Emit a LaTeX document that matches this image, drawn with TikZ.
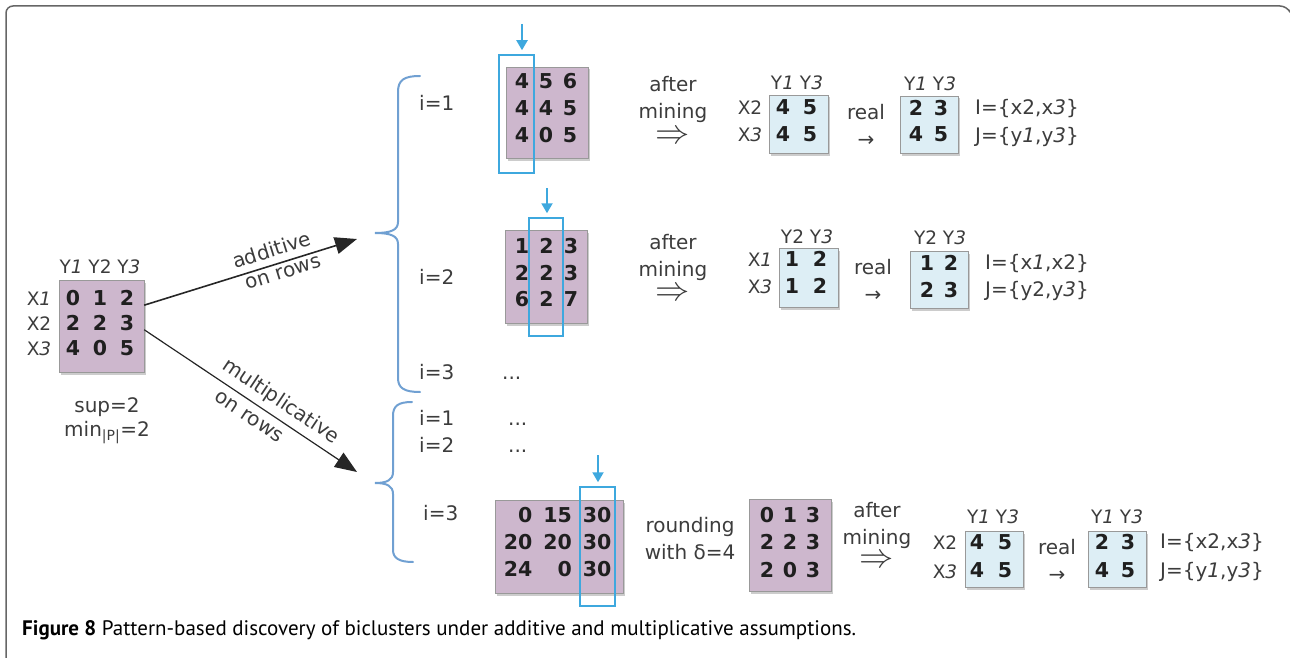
\documentclass[tikz,border=0pt]{standalone}
\usepackage{graphicx}
\usepackage{fontspec}
\setmainfont{DejaVu Sans}
\newfontfamily\capfont{PT Sans}
\usetikzlibrary{arrows.meta,shadows}
\definecolor{matpink}{RGB}{205,183,205}
\definecolor{matblue}{RGB}{221,238,245}
\definecolor{selblue}{RGB}{62,168,222}
\definecolor{brblue}{RGB}{112,160,210}
\definecolor{txtgray}{RGB}{60,60,60}
\begin{document}
\begin{tikzpicture}[x=1pt,y=-1pt,
    txt/.style={font=\fontsize{20}{27}\selectfont,text=txtgray,inner sep=0pt,
      text height=0.73em,text depth=0.2em},
    txtb/.style={font=\fontsize{20}{27}\selectfont,text=txtgray,inner sep=0pt,align=center},
    hdr/.style={font=\fontsize{18.5}{22}\selectfont,text=txtgray,inner sep=0pt,
      text height=0.73em,text depth=0pt},
    num/.style={font=\fontsize{20.5}{27}\selectfont\bfseries,text=black!88,inner sep=0pt,
      text height=0.73em,text depth=0pt},
    pmat/.style={draw=black!40,fill=matpink,inner sep=0pt,
      drop shadow={shadow xshift=2pt,shadow yshift=-2.5pt,opacity=0.4}},
    bmat/.style={pmat,fill=matblue},
    sel/.style={draw=selblue,line width=1.5pt,inner sep=0pt},
    pick/.style={selblue,line width=2pt,-{Triangle[length=10pt,width=11pt]},shorten >=4pt},
    flow/.style={draw=black!85,-{Triangle[length=22pt,width=17pt]}},
    curly/.style={draw=brblue,line width=2pt,line cap=round}]
  \useasboundingbox (0,0) rectangle (1290,658);
  \draw[black!60,line width=1.5pt,rounded corners=7pt] (6,658) -- (6,6) -- (1287,6) -- (1289,10);

  % input matrix
  \node[pmat,minimum width=85pt,minimum height=92pt] (m0) at (101.5,326) {};
  \foreach \a/\b/\c [count=\i] in {0/1/2,2/2/3,4/0/5}
    \foreach \v [count=\j] in {\a,\b,\c}
      \node[num] (m0-\i\j) at ({46+27*\j},{277+25*\i}) {\v};
  \foreach \t [count=\i] in {X\textit{1},X2,X\textit{3}}
    \node[hdr] (x0-\i) at (39,{277+25*\i}) {\t};
  \node[hdr] (y0) at (100,270) {Y\textit{1} Y2 Y\textit{3}};
  \node[font=\fontsize{20}{24}\selectfont,text=txtgray,inner sep=0pt,align=center] (par) at (107,421)
    {sup=2\\min\textsubscript{|P|}=2};

  \coordinate (add) at (357,239);
  \coordinate (mul) at (357,472);
  \draw[flow,line width=1.6pt] (m0.26) -- node[txt,sloped,anchor=south,inner sep=5pt,pos=0.62] (addl) {additive}
    node[txt,sloped,anchor=north,inner sep=8pt,pos=0.64] (addr) {on rows} (add);
  \draw[flow,line width=1.2pt] (m0.-5) -- node[txt,sloped,anchor=south,inner sep=8pt,pos=0.6] (mull) {multiplicative}
    node[txt,sloped,anchor=north,inner sep=12pt,pos=0.53] (mulr) {on rows} (mul);

  % braces
  \draw[curly] (420,76) .. controls (404,76) and (398,80) .. (398,92) -- (398,222)
    .. controls (398,230) and (391,233) .. (375,233) .. controls (391,233) and (398,236) .. (398,244)
    -- (398,378) .. controls (398,388) and (404,392) .. (420,392);
  \draw[curly] (412,402) .. controls (398,402) and (393,406) .. (393,416) -- (393,472)
    .. controls (393,480) and (387,483) .. (375,483) .. controls (387,483) and (393,486) .. (393,494)
    -- (393,550) .. controls (393,558) and (399,562) .. (413,562);

  \node[txt,anchor=west] (ia1) at (419,108) {i=1};
  \node[txt,anchor=west] (ia2) at (419,282) {i=2};
  \node[txt,anchor=west] (ia3) at (419,377) {i=3};
  \node[txt,anchor=west] (da3) at (502,377) {...};
  \node[txt,anchor=west] (im1) at (419,423) {i=1};
  \node[txt,anchor=west] (im2) at (419,450) {i=2};
  \node[txt,anchor=west] (im3) at (423,518) {i=3};
  \node[txt,anchor=west] (dm1) at (508,423) {...};
  \node[txt,anchor=west] (dm2) at (508,450) {...};

  % additive, i=1
  \node[pmat,minimum width=82pt,minimum height=91pt] (m1) at (547,112.5) {};
  \foreach \a/\b/\c [count=\i] in {4/5/6,4/4/5,4/0/5}
    \foreach \v [count=\j] in {\a,\b,\c}
      \node[num] (m1-\i\j) at ({498+24*\j},{58+27*\i}) {\v};
  \node[sel,minimum width=35pt,minimum height=118pt] (h1) at (516.5,114) {};
  \coordinate (p1) at (522,24);
  \draw[pick] (p1) -- (p1 |- h1.north);
  \node[txtb] (am1) at (673,99) {after\\mining};
  \node[txtb] (ar1) at (673,137) {\scalebox{1.65}{$\Rightarrow$}};
  \node[bmat,minimum width=59pt,minimum height=58pt] (b1) at (798.5,124) {};
  \foreach \a/\b [count=\i] in {4/5,4/5}
    \foreach \v [count=\j] in {\a,\b}
      \node[num] (b1-\i\j) at ({756+27*\j},{84+27*\i}) {\v};
  \node[hdr] (yb1) at (797,86) {Y\textit{1} Y\textit{3}};
  \node[hdr] (xb12) at (750,111) {X2};
  \node[hdr] (xb13) at (750,138) {X\textit{3}};
  \node[txtb] (re1) at (866,125) {real\\→};
  \node[bmat,minimum width=58pt,minimum height=57pt] (r1) at (929,124.5) {};
  \foreach \a/\b [count=\i] in {2/3,4/5}
    \foreach \v [count=\j] in {\a,\b}
      \node[num] (r1-\i\j) at ({891+25*\j},{86+26*\i}) {\v};
  \node[hdr] (yr1) at (930,87) {Y\textit{1} Y\textit{3}};
  \node[txt,anchor=west] (ii1) at (975,112) {I=\{x2,x\textit{3}\}};
  \node[txt,anchor=west] (jj1) at (975,140) {J=\{y\textit{1},y\textit{3}\}};

  % additive, i=2
  \node[pmat,minimum width=82pt,minimum height=93pt] (m2) at (546,276.5) {};
  \foreach \a/\b/\c [count=\i] in {1/2/3,2/2/3,6/2/7}
    \foreach \v [count=\j] in {\a,\b,\c}
      \node[num] (m2-\i\j) at ({497.5+24.5*\j},{223.5+26.5*\i}) {\v};
  \node[sel,minimum width=34pt,minimum height=118pt] (h2) at (546,277) {};
  \coordinate (p2) at (547,188);
  \draw[pick] (p2) -- (p2 |- h2.north);
  \node[txtb] (am2) at (673,257) {after\\mining};
  \node[txtb] (ar2) at (673,294) {\scalebox{1.65}{$\Rightarrow$}};
  \node[bmat,minimum width=59pt,minimum height=59pt] (b2) at (808.5,277.5) {};
  \foreach \a/\b [count=\i] in {1/2,1/2}
    \foreach \v [count=\j] in {\a,\b}
      \node[num] (b2-\i\j) at ({764+28*\j},{236+27*\i}) {\v};
  \node[hdr] (yb2) at (807,240) {Y2 Y\textit{3}};
  \node[hdr] (xb21) at (760,263) {X\textit{1}};
  \node[hdr] (xb23) at (760,290) {X\textit{3}};
  \node[txtb] (re2) at (873,280) {real\\→};
  \node[bmat,minimum width=58pt,minimum height=57pt] (r2) at (939,279.5) {};
  \foreach \a/\b [count=\i] in {1/2,2/3}
    \foreach \v [count=\j] in {\a,\b}
      \node[num] (r2-\i\j) at ({903+24*\j},{240+27*\i}) {\v};
  \node[hdr] (yr2) at (940,241) {Y2 Y\textit{3}};
  \node[txt,anchor=west] (ii2) at (985,267) {I=\{x\textit{1},x2\}};
  \node[txt,anchor=west] (jj2) at (985,294) {J=\{y2,y\textit{3}\}};

  % multiplicative, i=3
  \node[pmat,minimum width=128pt,minimum height=93pt] (m3) at (559,546.5) {};
  \foreach \a/\b/\c [count=\i] in {0/15/30,20/20/30,24/0/30}
    \foreach \v [count=\j] in {\a,\b,\c}
      \node[num,anchor=east] (m3-\i\j) at ({493+39.5*\j},{492+27*\i}) {\v};
  \node[sel,minimum width=35pt,minimum height=119pt] (h3) at (597.5,546.5) {};
  \coordinate (p3) at (598,455);
  \draw[pick] (p3) -- (p3 |- h3.north);
  \node[txtb] (rd3) at (690,539) {rounding\\with δ=4};
  \node[pmat,minimum width=82pt,minimum height=92pt] (m4) at (790,545) {};
  \foreach \a/\b/\c [count=\i] in {0/1/3,2/2/3,2/0/3}
    \foreach \v [count=\j] in {\a,\b,\c}
      \node[num] (m4-\i\j) at ({744+23*\j},{491+27.5*\i}) {\v};
  \node[txtb] (am3) at (877,525) {after\\mining};
  \node[txtb] (ar3) at (877,561) {\scalebox{1.65}{$\Rightarrow$}};
  \node[bmat,minimum width=58pt,minimum height=56pt] (b3) at (994,559) {};
  \foreach \a/\b [count=\i] in {4/5,4/5}
    \foreach \v [count=\j] in {\a,\b}
      \node[num] (b3-\i\j) at ({949+28*\j},{518+28*\i}) {\v};
  \node[hdr] (yb3) at (993,520) {Y\textit{1} Y\textit{3}};
  \node[hdr] (xb32) at (945,546) {X2};
  \node[hdr] (xb33) at (945,575) {X\textit{3}};
  \node[txtb] (re3) at (1057,560) {real\\→};
  \node[bmat,minimum width=58pt,minimum height=56pt] (r3) at (1117,559) {};
  \foreach \a/\b [count=\i] in {2/3,4/5}
    \foreach \v [count=\j] in {\a,\b}
      \node[num] (r3-\i\j) at ({1076+26*\j},{518+28*\i}) {\v};
  \node[hdr] (yr3) at (1117,520) {Y\textit{1} Y\textit{3}};
  \node[txt,anchor=west] (ii3) at (1160,546) {I=\{x2,x\textit{3}\}};
  \node[txt,anchor=west] (jj3) at (1160,575) {J=\{y\textit{1},y\textit{3}\}};

  \node[anchor=west,inner sep=0pt,font=\capfont\fontsize{21}{24}\selectfont] (cap) at (22,630)
    {\textbf{Figure 8} Pattern-based discovery of biclusters under additive and multiplicative assumptions.};
\end{tikzpicture}
\end{document}
